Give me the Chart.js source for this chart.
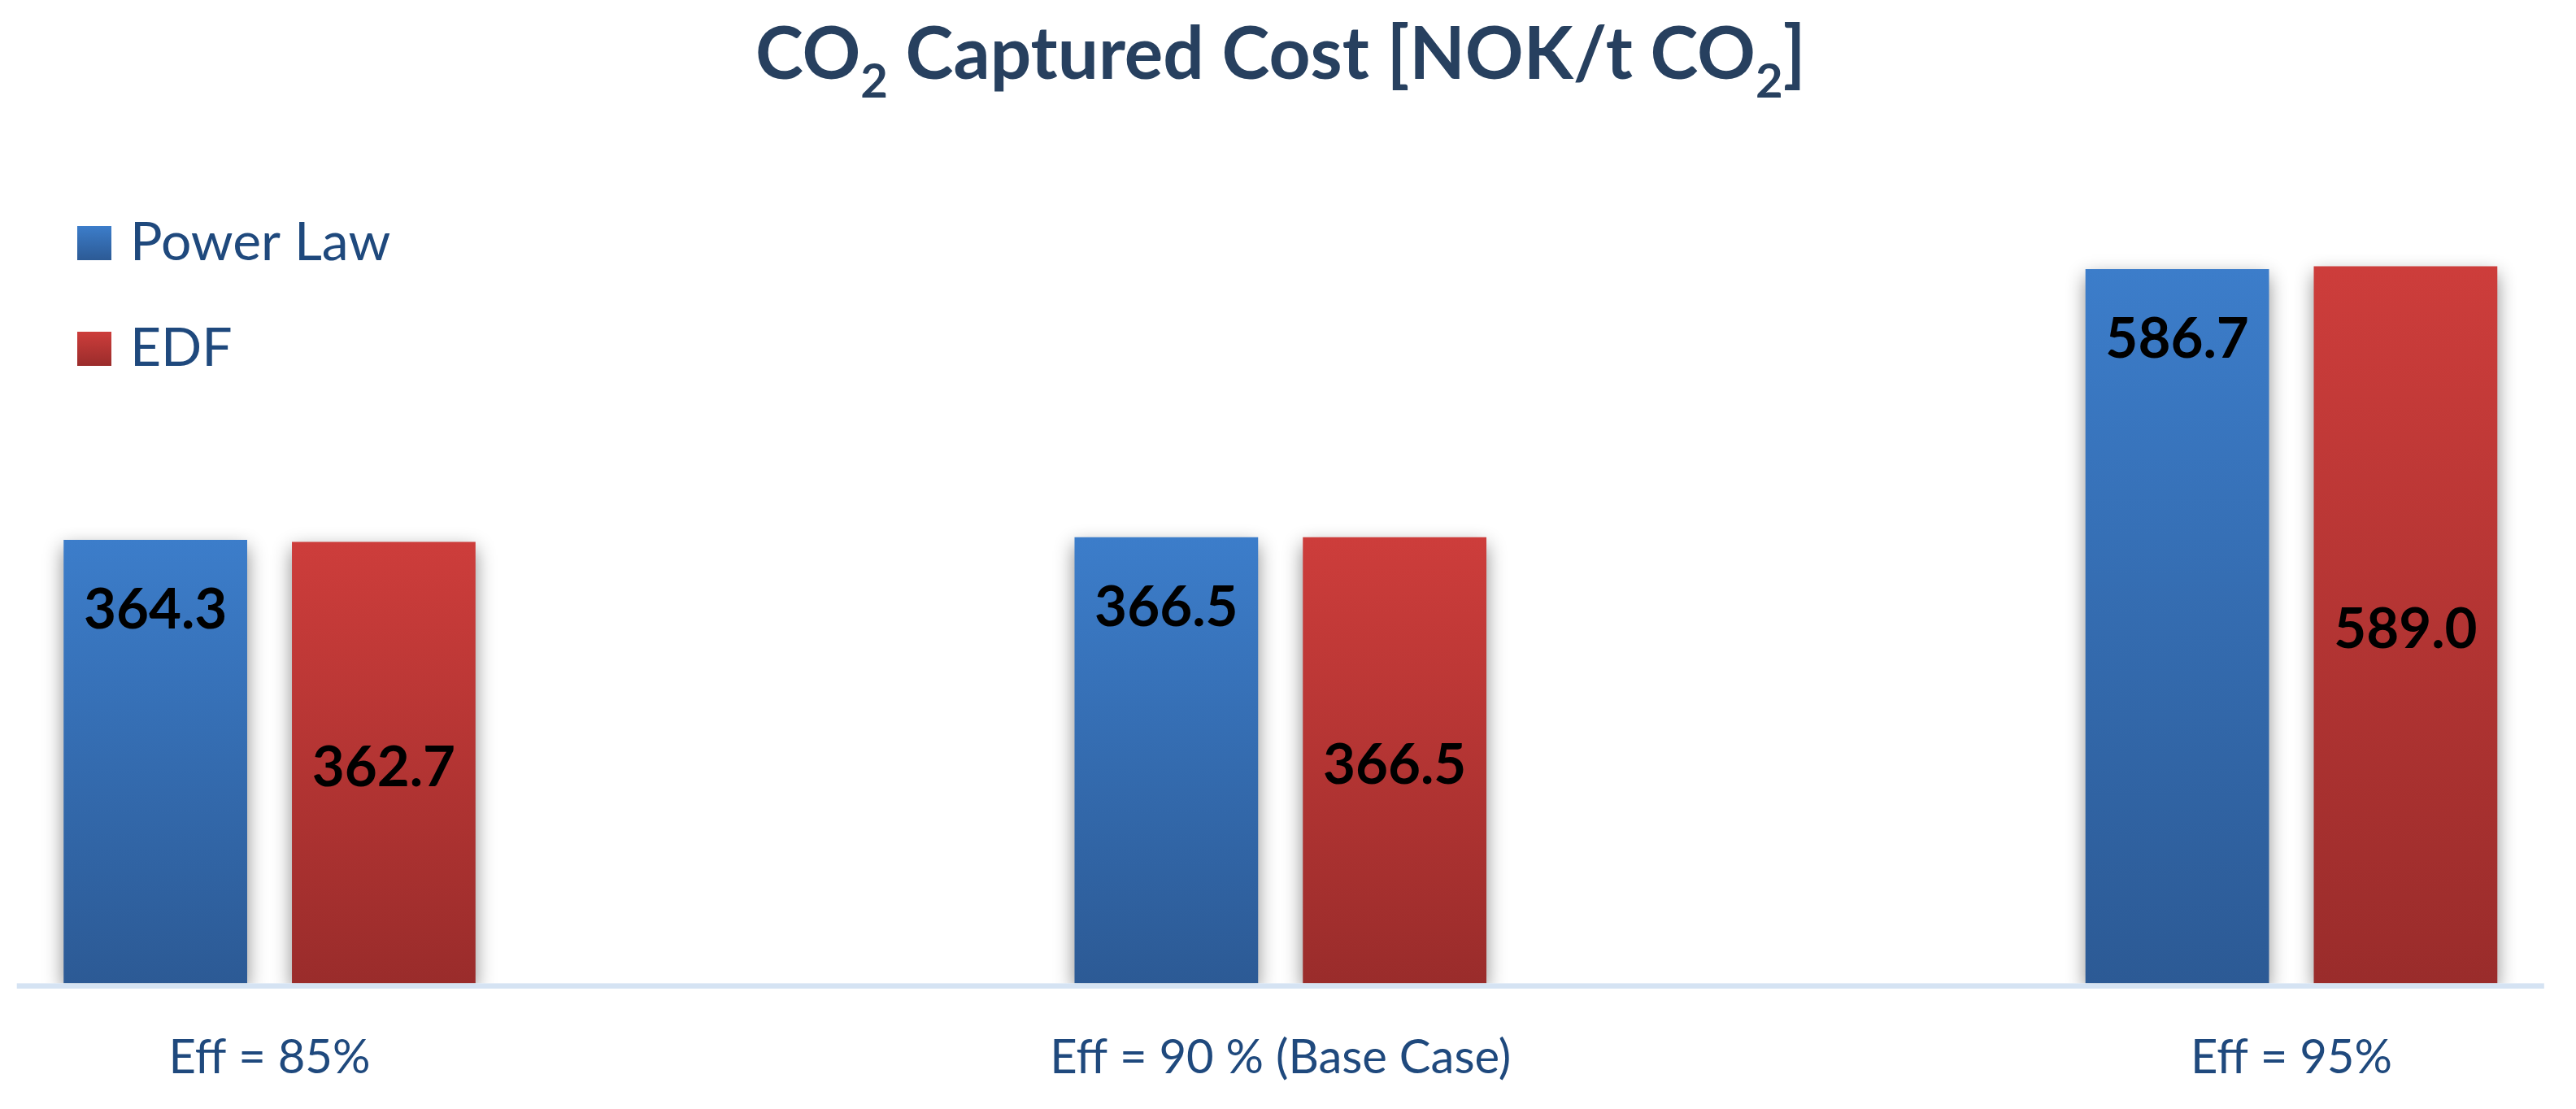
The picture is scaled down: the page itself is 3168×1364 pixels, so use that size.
<!DOCTYPE html>
<html>
<head>
<meta charset="utf-8">
<script src="https://cdn.jsdelivr.net/npm/chart.js@4.4.1/dist/chart.umd.min.js"></script>
<style>
  html, body { margin: 0; padding: 0; background: #fff; }
  canvas { display: block; }
</style>
</head>
<body>
<canvas id="chart" width="3168" height="1364"></canvas>
<script>
// data
const categories = ['Eff = 85%', 'Eff = 90 % (Base Case)', 'Eff = 95%'];
const seriesNames = ['Power Law', 'EDF'];
const powerLaw = [364.3, 366.5, 586.7];
const edf = [362.7, 366.5, 589.0];
// title pieces, true = subscript
const titleParts = [['CO', false], ['2', true], [' Captured Cost [NOK/t CO', false], ['2', true], [']', false]];

const FONT = 'Lato, "Open Sans", sans-serif';
const LABEL_BLUE = '#1f497d';
const TITLE_BLUE = '#27405f';
const palette = [
  { top: '#3c7dca', bottom: '#2c5a95' },
  { top: '#cd3d3b', bottom: '#9a2c2b' }
];

function barFill(i) {
  return c => {
    const chart = c.chart;
    if (!chart.chartArea || c.type !== 'data') return palette[i].top;
    const y = chart.scales.y;
    const g = chart.ctx.createLinearGradient(0, y.getPixelForValue(c.parsed.y), 0, y.getPixelForValue(0));
    g.addColorStop(0, palette[i].top);
    g.addColorStop(1, palette[i].bottom);
    return g;
  };
}

const decor = {
  id: 'decor',
  beforeDatasetsDraw(chart) {
    const ctx = chart.ctx;
    ctx.save();
    ctx.shadowColor = 'rgba(0,0,0,0.45)';
    ctx.shadowBlur = 22;
    ctx.shadowOffsetY = 9;
  },
  afterDatasetsDraw(chart) {
    const ctx = chart.ctx;
    const a = chart.chartArea;
    ctx.restore();

    // axis line
    ctx.fillStyle = '#d5e3f3';
    ctx.fillRect(a.left, a.bottom, a.right - a.left, 6.5);

    // value labels
    ctx.save();
    ctx.font = 'bold 69px ' + FONT;
    ctx.fillStyle = '#000';
    ctx.textAlign = 'center';
    ctx.textBaseline = 'alphabetic';
    chart.data.datasets.forEach((ds, d) => {
      chart.getDatasetMeta(d).data.forEach((bar, j) => {
        const v = ds.data[j].y;
        const y = d === 0 ? bar.y + 109 : (bar.y + bar.base) / 2 + 29;
        ctx.fillText(v.toFixed(1), bar.x, y);
      });
    });
    ctx.restore();
  },
  afterDraw(chart) {
    const ctx = chart.ctx;
    const a = chart.chartArea;
    ctx.save();

    // legend
    ctx.font = '66px ' + FONT;
    ctx.textBaseline = 'alphabetic';
    ctx.textAlign = 'left';
    seriesNames.forEach((name, i) => {
      const top = 278 + i * 130;
      const g = ctx.createLinearGradient(0, top, 0, top + 42);
      g.addColorStop(0, palette[i].top);
      g.addColorStop(1, palette[i].bottom);
      ctx.fillStyle = g;
      ctx.fillRect(95, top, 42, 42);
      ctx.fillStyle = LABEL_BLUE;
      ctx.fillText(name, 160, top + 42);
    });

    // title with subscripts
    const mainFont = 'bold 89px ' + FONT;
    const subFont = 'bold 58px ' + FONT;
    let total = 0;
    const widths = titleParts.map(([t, sub]) => {
      ctx.font = sub ? subFont : mainFont;
      const w = ctx.measureText(t).width;
      total += w;
      return w;
    });
    let x = (a.left + a.right) / 2 - total / 2;
    ctx.fillStyle = TITLE_BLUE;
    titleParts.forEach(([t, sub], i) => {
      ctx.font = sub ? subFont : mainFont;
      ctx.fillText(t, x, sub ? 120 : 97);
      x += widths[i];
    });
    ctx.restore();
  }
};

new Chart(document.getElementById('chart'), {
  type: 'bar',
  data: {
    datasets: [
      { label: seriesNames[0], data: powerLaw.map((v, i) => ({ x: i, y: v })), backgroundColor: barFill(0) },
      { label: seriesNames[1], data: edf.map((v, i) => ({ x: i, y: v })), backgroundColor: barFill(1) }
    ]
  },
  options: {
    responsive: false,
    animation: false,
    categoryPercentage: 0.4517,
    barPercentage: 0.804,
    layout: { padding: { left: 20.7, right: 39.2, top: 161.4, bottom: 0 } },
    plugins: { legend: { display: false }, title: { display: false }, tooltip: { enabled: false } },
    scales: {
      x: {
        type: 'linear',
        min: -0.25,
        max: 2.25,
        offset: false,
        grid: { display: false, drawTicks: true, tickLength: 29 },
        border: { display: false },
        afterBuildTicks: s => { s.ticks = categories.map((_, i) => ({ value: i })); },
        ticks: {
          autoSkip: false,
          maxRotation: 0,
          padding: 28,
          color: LABEL_BLUE,
          font: { family: FONT, size: 58, lineHeight: 1.2 },
          callback: v => categories[v] ?? ''
        }
      },
      y: { display: false, min: 0, max: 700 }
    }
  },
  plugins: [decor]
});
</script>
</body>
</html>
